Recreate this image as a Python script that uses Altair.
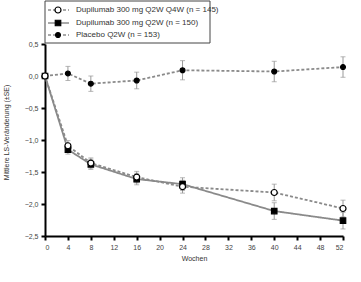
import altair as alt
import pandas as pd

weeks = [0, 4, 8, 16, 24, 40, 52]
series_names = [
    "Dupilumab 300 mg Q2W Q4W (n = 145)",
    "Dupilumab 300 mg Q2W (n = 150)",
    "Placebo Q2W (n = 153)",
]
q2w_q4w_mean = [0.0, -1.09, -1.36, -1.58, -1.73, -1.82, -2.07]
q2w_q4w_se = [0.0, 0.08, 0.08, 0.09, 0.10, 0.13, 0.13]
q2w_mean = [0.0, -1.15, -1.38, -1.61, -1.69, -2.11, -2.26]
q2w_se = [0.0, 0.07, 0.08, 0.09, 0.10, 0.13, 0.13]
placebo_mean = [0.0, 0.04, -0.12, -0.07, 0.09, 0.07, 0.14]
placebo_se = [0.0, 0.11, 0.12, 0.13, 0.15, 0.16, 0.16]

x_ticks = list(range(0, 53, 4))
y_ticks = [-2.5, -2.0, -1.5, -1.0, -0.5, 0.0, 0.5]

rows = []
for name, means, ses in [
    (series_names[2], placebo_mean, placebo_se),
    (series_names[1], q2w_mean, q2w_se),
    (series_names[0], q2w_q4w_mean, q2w_q4w_se),
]:
    for w, m, s in zip(weeks, means, ses):
        rows.append({"series": name, "week": w, "mean": m, "lo": m - s, "hi": m + s, "se": s})
df = pd.DataFrame(rows)
legend_df = pd.DataFrame({"series": series_names})

font = "Liberation Sans"

x_enc = alt.X(
    "week:Q",
    scale=alt.Scale(domain=[0, 52], nice=False, zero=False),
    axis=alt.Axis(values=x_ticks, tickCount=30, title="Wochen", format="d", labelOverlap=False),
)
y_enc = alt.Y(
    "mean:Q",
    scale=alt.Scale(domain=[-2.5, 0.5], nice=False),
    axis=alt.Axis(
        values=y_ticks,
        tickCount=30,
        labelOverlap=False,
        labelExpr="replace(format(datum.value, '.1f'), '.', ',')",
        title="Mittlere LS-Veränderung (±SE)",
        titleX=-36,
        titleY=88,
    ),
)

base = alt.Chart(df)

lines = base.mark_line(color="#8a8a8a", strokeWidth=1.8).encode(
    x=x_enc,
    y=y_enc,
    strokeDash=alt.StrokeDash(
        "series:N",
        scale=alt.Scale(domain=series_names, range=[[3, 2], [1, 0], [3, 2]]),
        legend=None,
    ),
)

err_data = base.transform_filter("datum.se > 0")
err_rule = err_data.mark_rule(color="#999999", strokeWidth=1).encode(
    x="week:Q", y="lo:Q", y2="hi:Q"
)
err_lo = err_data.mark_tick(orient="horizontal", size=5, thickness=1, color="#999999").encode(
    x="week:Q", y="lo:Q"
)
err_hi = err_data.mark_tick(orient="horizontal", size=5, thickness=1, color="#999999").encode(
    x="week:Q", y="hi:Q"
)

styles = {
    series_names[0]: {"shape": "circle", "fill": "white", "size": 36, "dash": [3, 2]},
    series_names[1]: {"shape": "square", "fill": "black", "size": 30, "dash": [1, 0]},
    series_names[2]: {"shape": "circle", "fill": "black", "size": 24, "dash": [3, 2]},
}


def series_points(name):
    st = styles[name]
    return (
        base.transform_filter(alt.datum.series == name)
        .mark_point(shape=st["shape"], filled=True, fill=st["fill"], stroke="black",
                    strokeWidth=1.2, size=st["size"], opacity=1)
        .encode(x="week:Q", y="mean:Q")
    )


point_layers = [series_points(series_names[2]), series_points(series_names[1]), series_points(series_names[0])]

# legend (decoration), drawn in the top padding above the plot area
leg_base = alt.Chart(legend_df)
legend_layers = [
    leg_base.transform_filter(alt.datum.series == series_names[0])
    .mark_rect(fill="white", stroke="#444444", strokeWidth=1)
    .encode(x=alt.value(0), x2=alt.value(165), y=alt.value(-43), y2=alt.value(-1))
]
row_y = [-34, -21, -9]
for name, ry in zip(series_names, row_y):
    st = styles[name]
    sub = leg_base.transform_filter(alt.datum.series == name)
    legend_layers.append(
        sub.mark_rule(color="#555555", strokeWidth=1.2, strokeDash=st["dash"]).encode(
            x=alt.value(3), x2=alt.value(24), y=alt.value(ry)
        )
    )
    legend_layers.append(
        sub.mark_point(shape=st["shape"], filled=True, fill=st["fill"], stroke="black",
                       strokeWidth=1.2, size=st["size"], opacity=1).encode(
            x=alt.value(13), y=alt.value(ry)
        )
    )
    legend_layers.append(
        sub.mark_text(align="left", baseline="middle", fontSize=8, font=font, color="#333333").encode(
            x=alt.value(31), y=alt.value(ry), text="series:N"
        )
    )

chart = (
    alt.layer(lines, err_rule, err_lo, err_hi, *point_layers, *legend_layers)
    .properties(
        width=298,
        height=192,
        autosize=alt.AutoSizeParams(type="none"),
        padding={"left": 45, "top": 44, "right": 18, "bottom": 46},
        background="white",
    )
    .configure_view(stroke=None)
    .configure_axis(
        grid=False,
        domainColor="black",
        domainWidth=2,
        tickColor="black",
        tickWidth=2,
        tickSize=4,
        labelFontSize=7,
        labelColor="#444444",
        labelFont=font,
        titleFont=font,
        titleFontSize=7,
        titleFontWeight="normal",
        titleColor="#333333",
        labelPadding=3,
    )
)

chart.save("out.html", embed_options={"renderer": "svg", "actions": False})
